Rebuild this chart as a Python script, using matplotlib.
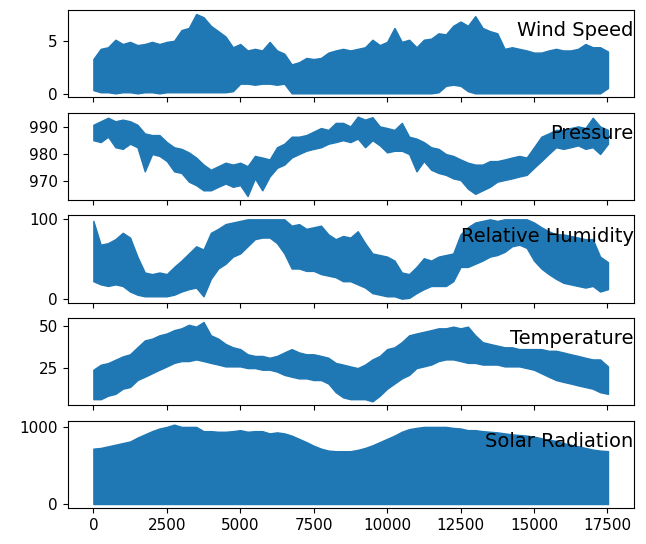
#plot the five weather series stacked, sharing the hour axis
import matplotlib.pyplot as plt

hours = [0, 250, 500, 750, 1000, 1250, 1500, 1750, 2000, 2250, 2500, 2750,
         3000, 3250, 3500, 3750, 4000, 4250, 4500, 4750, 5000, 5250, 5500,
         5750, 6000, 6250, 6500, 6750, 7000, 7250, 7500, 7750, 8000, 8250,
         8500, 8750, 9000, 9250, 9500, 9750, 10000, 10250, 10500, 10750,
         11000, 11250, 11500, 11750, 12000, 12250, 12500, 12750, 13000,
         13250, 13500, 13750, 14000, 14250, 14500, 14750, 15000, 15250,
         15500, 15750, 16000, 16250, 16500, 16750, 17000, 17250, 17519]

wind_hi = [3.3, 4.25, 4.4, 5.1, 4.7, 4.9, 4.6, 4.7, 4.9, 4.7, 4.9, 5.0,
           6.0, 6.2, 7.5, 7.2, 6.4, 5.9, 5.4, 4.4, 4.7, 4.1, 4.25,
           4.1, 4.9, 4.1, 3.8, 2.8, 3.0, 3.4, 3.3, 3.4, 3.9, 4.1,
           4.25, 4.1, 4.25, 4.4, 5.1, 4.6, 4.9, 6.2, 4.9, 5.1,
           4.4, 5.1, 5.2, 5.7, 5.6, 6.4, 6.8, 6.4, 7.3,
           6.2, 5.9, 5.7, 4.25, 4.4, 4.25, 4.1, 3.9, 3.9,
           4.1, 4.25, 4.1, 4.1, 4.25, 4.7, 4.4, 4.4, 4.0]
wind_lo = [0.4, 0.2, 0.2, 0.1, 0.2, 0.2, 0.1, 0.2, 0.2, 0.1, 0.2, 0.2,
           0.2, 0.2, 0.2, 0.2, 0.2, 0.2, 0.2, 0.3, 1.0, 1.0, 0.9,
           1.0, 1.0, 0.9, 1.0, 0.1, 0.1, 0.1, 0.1, 0.1, 0.1, 0.1,
           0.1, 0.1, 0.1, 0.1, 0.1, 0.1, 0.1, 0.1, 0.1, 0.1,
           0.1, 0.1, 0.1, 0.2, 0.8, 0.9, 0.8, 0.3, 0.1,
           0.1, 0.1, 0.1, 0.1, 0.1, 0.1, 0.1, 0.1, 0.1,
           0.1, 0.1, 0.1, 0.1, 0.1, 0.1, 0.1, 0.1, 0.6]

pres_hi = [990.7, 992.0, 993.3, 992.0, 992.6, 992.0, 990.7, 987.5, 986.9,
           986.9, 984.3, 982.4, 981.8, 980.5, 978.6, 976.0, 974.1, 975.4,
           976.7, 976.0, 976.7, 975.4, 979.2, 978.6, 977.9, 982.4, 983.7,
           986.3, 986.3, 986.9, 988.2, 989.5, 988.8, 991.4, 991.4, 990.1,
           993.7, 992.6, 993.5, 990.1, 989.5, 988.8, 991.4, 986.3, 985.6,
           984.3, 982.4, 981.8, 979.9, 979.2, 977.9, 976.7, 976.0, 976.0,
           977.3, 977.3, 977.9, 978.6, 979.2, 978.6, 982.4, 986.3, 987.5,
           988.8, 988.8, 989.5, 990.1, 989.5, 993.3, 990.1, 988.8]
pres_lo = [985.0, 984.3, 986.3, 982.4, 981.8, 983.7, 982.4, 973.5, 979.9,
           979.2, 977.3, 973.5, 972.9, 969.7, 968.4, 966.5, 966.5, 967.8,
           969.0, 967.8, 968.4, 964.4, 970.9, 966.5, 971.6, 974.8, 976.0,
           978.6, 979.9, 981.1, 981.8, 982.4, 983.7, 984.3, 985.0, 984.3,
           985.6, 982.4, 985.0, 983.1, 980.5, 981.1, 981.1, 979.9, 973.5,
           977.3, 974.1, 972.9, 972.2, 970.9, 970.3, 967.1, 965.2, 966.5,
           967.8, 969.7, 970.3, 970.9, 971.6, 972.2, 974.8, 977.3, 979.9,
           982.4, 981.8, 982.4, 983.1, 981.8, 982.4, 979.9, 983.7]

hum_hi = [98, 68, 70, 75, 83, 77, 53, 33, 31, 33, 31, 40,
          48, 57, 66, 62, 83, 88, 94, 96, 98, 100, 100,
          100, 100, 100, 100, 92, 94, 88, 90, 92, 81, 75,
          79, 77, 85, 70, 57, 55, 53, 48, 33, 31,
          40, 51, 48, 53, 55, 57, 81, 90, 96,
          98, 100, 98, 100, 100, 100, 100, 96, 90,
          85, 81, 81, 79, 77, 75, 75, 53, 46]
hum_lo = [22, 18, 16, 18, 16, 9, 5, 3, 3, 3, 3, 5,
          9, 12, 14, 3, 25, 38, 44, 53, 57, 66, 75,
          77, 77, 70, 57, 38, 38, 35, 35, 31, 29, 27,
          22, 22, 18, 14, 7, 5, 3, 3, 0, 1,
          7, 12, 16, 16, 16, 22, 40, 40, 44,
          48, 53, 55, 59, 66, 68, 64, 48, 38,
          31, 25, 20, 18, 16, 14, 16, 9, 12]

temp_hi = [24, 27, 28, 30, 32, 33.3, 37.5, 41.6, 42.7, 44.7, 45.8, 47.8,
           48.9, 51, 49.9, 52.7, 44.7, 42.7, 39.5, 37.5, 36.4, 33.3, 32.3,
           32.3, 31.2, 32.3, 34.4, 36.4, 34.4, 33.3, 33.3, 32.3, 31.2, 28.1,
           27.1, 26, 25, 27.1, 30.2, 32.3, 36.4, 37.5, 40.6, 44.7,
           45.8, 46.8, 47.8, 48.9, 48.9, 49.9, 48.9, 49.9, 44.7,
           40.6, 39.5, 38.5, 37.5, 37.5, 36.4, 36.4, 36.4, 36.4,
           35.4, 35.4, 34.4, 33.3, 32.3, 31.2, 30.2, 30.2, 26]
temp_lo = [6.3, 6.3, 8.4, 9.5, 12.6, 13.6, 17.8, 19.8, 21.9, 24, 26, 28.1,
           29.2, 29.2, 30.2, 29.2, 28.1, 27.1, 26, 26, 26, 25, 25,
           24, 24, 22.9, 20.9, 19.8, 18.8, 18.8, 17.8, 17.8, 15.7, 10.5,
           7.4, 6.3, 6.3, 6.3, 5.0, 8.4, 12.6, 15.7, 18.8, 20.9,
           25, 26, 27.1, 29.2, 30.2, 30.2, 29.2, 28.1, 28.1,
           27.1, 27.1, 27.1, 26, 26, 26, 25, 24, 21.9,
           19.8, 17.8, 16.7, 15.7, 14.6, 13.6, 12.6, 10.5, 9.5]

solar_hi = [718, 727, 748, 769, 790, 811, 861, 903, 945, 979, 1000, 1029,
            1000, 1000, 1000, 945, 945, 937, 937, 945, 958, 937, 945,
            945, 916, 929, 916, 887, 845, 803, 756, 718, 693, 685,
            685, 685, 702, 727, 761, 803, 845, 887, 937, 971,
            987, 1000, 1000, 1000, 1000, 987, 979, 958, 958,
            945, 937, 929, 916, 903, 895, 887, 874, 853,
            832, 819, 790, 769, 748, 727, 706, 693, 685]
solar_lo = [0] * len(hours)

names = ['Wind Speed', 'Pressure', 'Relative Humidity', 'Temperature', 'Solar Radiation']
bands = [(wind_lo, wind_hi), (pres_lo, pres_hi), (hum_lo, hum_hi),
         (temp_lo, temp_hi), (solar_lo, solar_hi)]
yticks = [[0, 5], [970, 980, 990], [0, 100], [25, 50], [0, 1000]]

fig, axes = plt.subplots(5, 1, sharex=True, figsize=(6.46, 5.44), dpi=100)
fig.subplots_adjust(left=0.1047, right=0.981, top=0.9816, bottom=0.0662, hspace=0.176)

for ax, name, (lo, hi), yt in zip(axes, names, bands, yticks):
    ax.fill_between(hours, lo, hi, color='#1f77b4', lw=1.0, edgecolor='#1f77b4')
    ax.set_yticks(yt)
    ax.tick_params(labelsize=11)
    ax.set_title(name, y=0.5, loc='right', fontsize=14, pad=12.5)

axes[-1].set_xticks([0, 2500, 5000, 7500, 10000, 12500, 15000, 17500])

fig.savefig('out.png', dpi=100)
